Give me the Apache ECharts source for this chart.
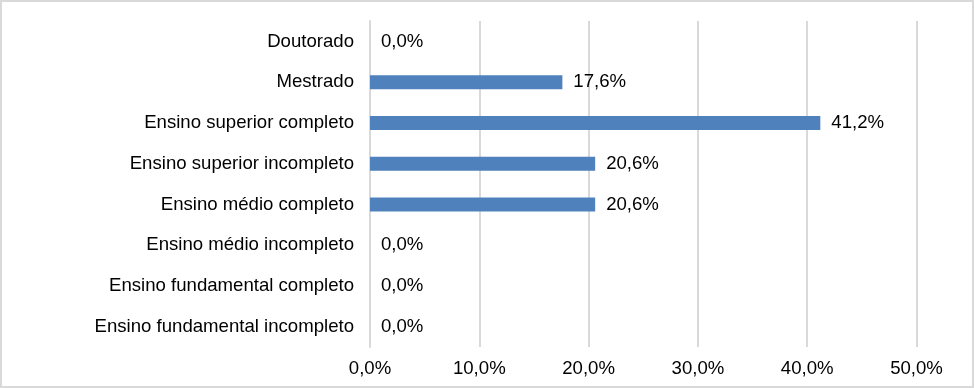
<!DOCTYPE html>
<html><head><meta charset="utf-8">
<script src="https://cdn.jsdelivr.net/npm/echarts@6/dist/echarts.min.js"></script>
<style>html,body{margin:0;padding:0;background:#fff}#c{width:974px;height:388px}</style>
</head><body><div id="c"></div>
<script>
const categories = ["Ensino fundamental incompleto","Ensino fundamental completo","Ensino médio incompleto","Ensino médio completo","Ensino superior incompleto","Ensino superior completo","Mestrado","Doutorado"];
const values = [0.0, 0.0, 0.0, 20.6, 20.6, 41.2, 17.6, 0.0];
const xTicks = [0, 10, 20, 30, 40, 50];
const fmt = v => Number(v).toFixed(1).replace('.', ',') + '%';
const FS = 18.6;
const chart = echarts.init(document.getElementById('c'), null, {renderer:'canvas'});
chart.setOption({
  animation:false,
  textStyle:{fontFamily:'Liberation Sans, Arial, sans-serif'},
  graphic:[{type:'rect',shape:{x:1,y:1,width:972,height:386},style:{fill:'none',stroke:'#D9D9D9',lineWidth:2},silent:true}],
  grid:{left:370,right:57.5,top:21,bottom:41,containLabel:false},
  xAxis:{type:'value',min:xTicks[0],max:xTicks[xTicks.length-1],interval:10,
    axisLine:{show:false},axisTick:{show:false},
    splitLine:{show:true,lineStyle:{color:'#D9D9D9',width:2}},
    axisLabel:{formatter:fmt,color:'#000',fontSize:FS,margin:12}},
  yAxis:{type:'category',data:categories,
    axisLine:{show:true,lineStyle:{color:'#D9D9D9',width:2}},axisTick:{show:false},
    axisLabel:{color:'#000',fontSize:FS,margin:16}},
  series:[{type:'bar',data:values,barWidth:14,itemStyle:{color:'#4F81BD'},
    label:{show:true,position:'right',distance:11,color:'#000',fontSize:FS,formatter:p=>fmt(p.value)}}]
});
</script></body></html>
